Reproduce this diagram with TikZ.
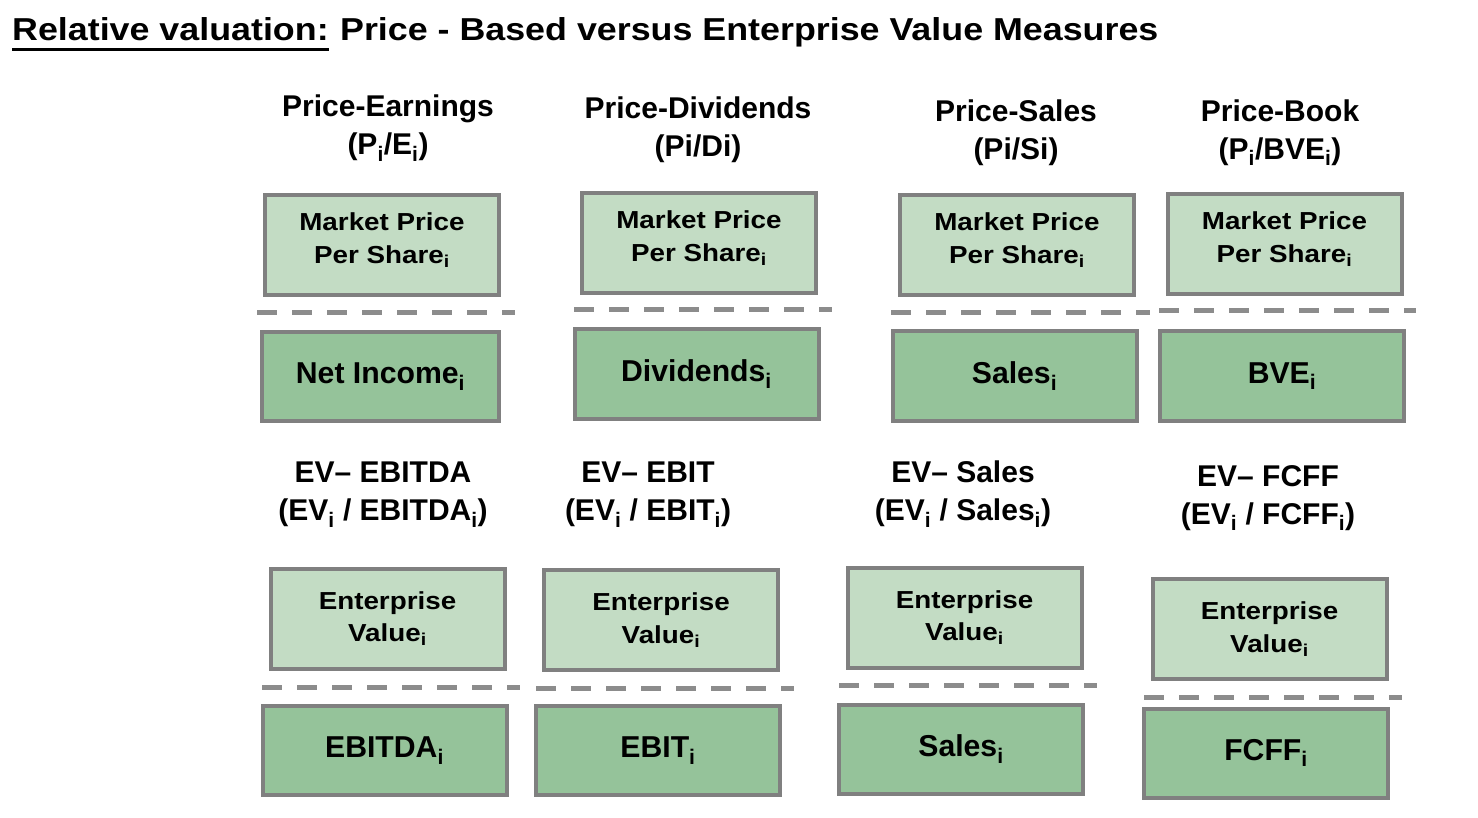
\documentclass[tikz,border=0pt]{standalone}
\usepackage{fontspec}
\setmainfont{Liberation Sans}
\newfontfamily\widesans{Liberation Sans}[FakeStretch=1.13]
\begin{document}
\definecolor{boxlight}{HTML}{C3DCC4}
\definecolor{boxdark}{HTML}{95C39A}
\definecolor{boxedge}{HTML}{808080}
\definecolor{sepgray}{HTML}{8C8C8C}
\newcommand{\ix}{\textsubscript{i}}
% extra depth below the last line, lifts the two-line text a little
\newcommand{\liftup}{\rule[-14pt]{0pt}{0pt}}
\begin{tikzpicture}[x=1pt,y=-1pt,
  every node/.style={inner sep=0pt},
  titletext/.style={font=\widesans\bfseries\fontsize{31.7}{38}\selectfont, anchor=base west},
  head/.style={font=\bfseries\fontsize{30}{38}\selectfont, align=center},
  lightbox/.style={font=\widesans\bfseries\fontsize{24.6}{32.5}\selectfont, align=center,
    draw=boxedge, line width=4pt, fill=boxlight,
    minimum width=234pt, minimum height=100pt},
  darkbox/.style={font=\bfseries\fontsize{30.2}{36}\selectfont, align=center,
    draw=boxedge, line width=4pt, fill=boxdark,
    minimum width=244pt, minimum height=89pt},
  sep/.style={draw=sepgray, line width=5pt, dash pattern=on 20pt off 15pt}
]
\useasboundingbox (0,0) rectangle (1478,818);

% title
\node[titletext] (t1) at (12,41) {Relative valuation:};
\node[titletext] (t2) at ([xshift=11pt]t1.base east) {Price - Based versus Enterprise Value Measures};
\draw[line width=3pt] ([yshift=-8.5pt]t1.base west) -- ([yshift=-8.5pt]t1.base east);

% price-based measures
\node[head] (hpe) at (388,128) {Price-Earnings\\(P\ix/E\ix)};
\node[head] (hpd) at (698,129.5) {Price-Dividends\\(Pi/Di)};
\node[head] (hps) at (1016,133) {Price-Sales\\(Pi/Si)};
\node[head] (hpb) at (1280,132.5) {Price-Book\\(P\ix/BVE\ix)};

\node[lightbox] (mpe) at (382,245) {Market Price\\Per Share\ix\liftup};
\node[lightbox] (mpd) at (699,243) {Market Price\\Per Share\ix\liftup};
\node[lightbox] (mps) at (1017,245) {Market Price\\Per Share\ix\liftup};
\node[lightbox] (mpb) at (1284.5,244) {Market Price\\Per Share\ix\liftup};

\draw[sep] (257,313) -- (515,313);
\draw[sep] (574,310) -- (832,310);
\draw[sep] (891,313) -- (1150,313);
\draw[sep] (1159,311) -- (1416,311);

\node[darkbox, minimum width=237pt] (dpe) at (380.5,376.5) {Net Income\ix};
\node[darkbox] (dpd) at (696.5,374) {Dividends\ix};
\node[darkbox] (dps) at (1014.5,376) {Sales\ix};
\node[darkbox] (dpb) at (1282,376) {BVE\ix};

% enterprise value measures
\node[head] (hea) at (383,495) {EV– EBITDA\\(EV\ix{} / EBITDA\ix)};
\node[head] (heb) at (648,495) {EV– EBIT\\(EV\ix{} / EBIT\ix)};
\node[head] (hes) at (963,494) {EV– Sales\\(EV\ix{} / Sales\ix)};
\node[head] (hef) at (1268,498) {EV– FCFF\\(EV\ix{} / FCFF\ix)};

\node[lightbox] (eva) at (387.5,618.5) {Enterprise\\Value\ix};
\node[lightbox] (evb) at (661,620) {Enterprise\\Value\ix};
\node[lightbox] (evs) at (964.5,617.5) {Enterprise\\Value\ix};
\node[lightbox] (evf) at (1269.5,629) {Enterprise\\Value\ix};

\draw[sep] (262,687) -- (520,687);
\draw[sep] (536,688) -- (794,688);
\draw[sep] (839,685) -- (1097,685);
\draw[sep] (1144,697) -- (1402,697);

\node[darkbox] (dea) at (384.5,750.5) {EBITDA\ix};
\node[darkbox] (deb) at (658,750.5) {EBIT\ix};
\node[darkbox] (des) at (961,749) {Sales\ix};
\node[darkbox] (def) at (1266,753) {FCFF\ix};
\end{tikzpicture}
\end{document}
